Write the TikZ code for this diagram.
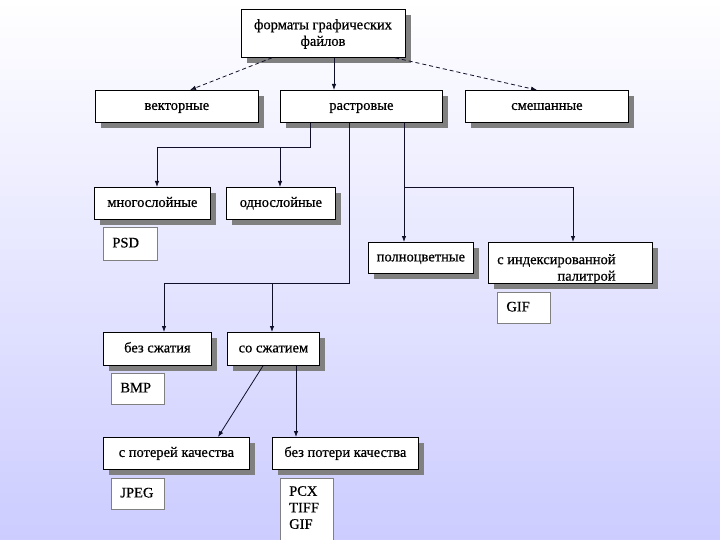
\documentclass[tikz,border=0pt]{standalone}
\usepackage{fontspec}
\setmainfont{Liberation Serif}[UprightFeatures={FakeBold=0.6}]
\usetikzlibrary{shadows,arrows.meta}
\definecolor{bgbottom}{RGB}{204,204,255}
\definecolor{shadowgray}{RGB}{128,128,128}
\definecolor{linecol}{RGB}{15,15,40}
\begin{document}
\begin{tikzpicture}[x=1pt,y=-1pt,
  txt/.style={font=\fontsize{14.5}{16.5}\selectfont},
  boxbase/.style={txt, draw=black, line width=0.8pt, fill=white, anchor=north west, inner sep=0pt,
    drop shadow={shadow xshift=6pt,shadow yshift=-6pt,fill=shadowgray,opacity=1}},
  mainbox/.style={boxbase, text height=10pt, text depth=3pt},
  subbox/.style={txt, draw=gray, line width=0.8pt, fill=white, anchor=north west,
    inner xsep=9pt, inner ysep=0pt, align=left, text height=10pt, text depth=3pt},
  conn/.style={draw=linecol, line width=0.8pt},
  arr/.style={conn, -{Latex[length=6pt,width=4.5pt]}},
  darr/.style={arr, dash pattern=on 4pt off 3pt},
]
\useasboundingbox (0,0) rectangle (720,540);
\clip (0,0) rectangle (720,540);
\shade[top color=white, bottom color=bgbottom] (0,0) rectangle (720,540);

% boxes
\node[boxbase, minimum width=164pt, minimum height=48pt] (root) at (241,9) {};
\node[txt, inner sep=0pt, align=center, anchor=north] (roott) at (323,19) {форматы графических\\файлов};
\node[mainbox, minimum width=163pt, minimum height=32pt] (vec) at (95,90) {векторные};
\node[mainbox, minimum width=162pt, minimum height=32pt] (ras) at (280,90) {растровые};
\node[mainbox, minimum width=163pt, minimum height=32pt] (mix) at (465,90) {смешанные};

\node[mainbox, minimum width=116pt, minimum height=32pt] (multi) at (94,187) {многослойные};
\node[mainbox, minimum width=109pt, minimum height=32pt] (single) at (226,187) {однослойные};
\node[subbox, text width=36pt, minimum height=33pt] (psd) at (103,227) {PSD};

\node[mainbox, minimum width=105pt, minimum height=31pt] (full) at (368,242) {полноцветные};
\node[boxbase, minimum width=164pt, minimum height=41pt] (idx) at (488,242) {};
\node[txt, anchor=north west, inner sep=0pt, align=right] (idxt) at (497,254) {с индексированной\\палитрой};
\node[subbox, text width=35pt, minimum height=31pt] (gif1) at (497,292) {GIF};

\node[mainbox, minimum width=108pt, minimum height=33pt] (nocomp) at (103,332) {без сжатия};
\node[mainbox, minimum width=92pt, minimum height=33pt] (comp) at (227,332) {со сжатием};
\node[subbox, text width=35pt, minimum height=31pt] (bmp) at (111,373) {BMP};

\node[mainbox, minimum width=146pt, minimum height=32pt] (lossy) at (103,437) {с потерей качества};
\node[mainbox, minimum width=146pt, minimum height=32pt] (lossless) at (272,437) {без потери качества};
\node[subbox, text width=35pt, minimum height=31pt] (jpeg) at (111,478) {JPEG};
\node[draw=gray, line width=0.8pt, fill=white, anchor=north west, inner sep=0pt,
      minimum width=53pt, minimum height=70pt] (pcx) at (280,478) {};
\node[txt, anchor=north west, inner sep=0pt, align=left] (pcxt) at (289,486) {PCX\\TIFF\\GIF};

% connectors
\draw[darr] ([xshift=31pt]root.south west) -- ([xshift=95pt]vec.north west);
\draw[arr] ([xshift=93pt]root.south west) -- ([xshift=54pt]ras.north west);
\draw[darr] ([xshift=154pt]root.south west) -- ([xshift=72pt]mix.north west);

\draw[arr] ([xshift=30pt]ras.south west) -- ++(0,25) -| ([xshift=63pt]multi.north west);
\draw[arr] ([xshift=54pt,yshift=40pt]single.north west) -- ([xshift=54pt]single.north west);

\draw[arr] ([xshift=124pt]ras.south west) -- ([xshift=36pt]full.north west);
\draw[arr] ([xshift=124pt,yshift=-65pt]ras.south west) -| ([xshift=85pt]idx.north west);

\draw[arr] ([xshift=69pt]ras.south west) -- ++(0,161) -| ([xshift=61pt]nocomp.north west);
\draw[arr] ([xshift=45pt,yshift=49pt]comp.north west) -- ([xshift=45pt]comp.north west);

\draw[arr] ([xshift=36pt]comp.south west) -- ([xshift=115pt]lossy.north west);
\draw[arr] ([xshift=69pt]comp.south west) -- ([xshift=24pt]lossless.north west);
\end{tikzpicture}
\end{document}
